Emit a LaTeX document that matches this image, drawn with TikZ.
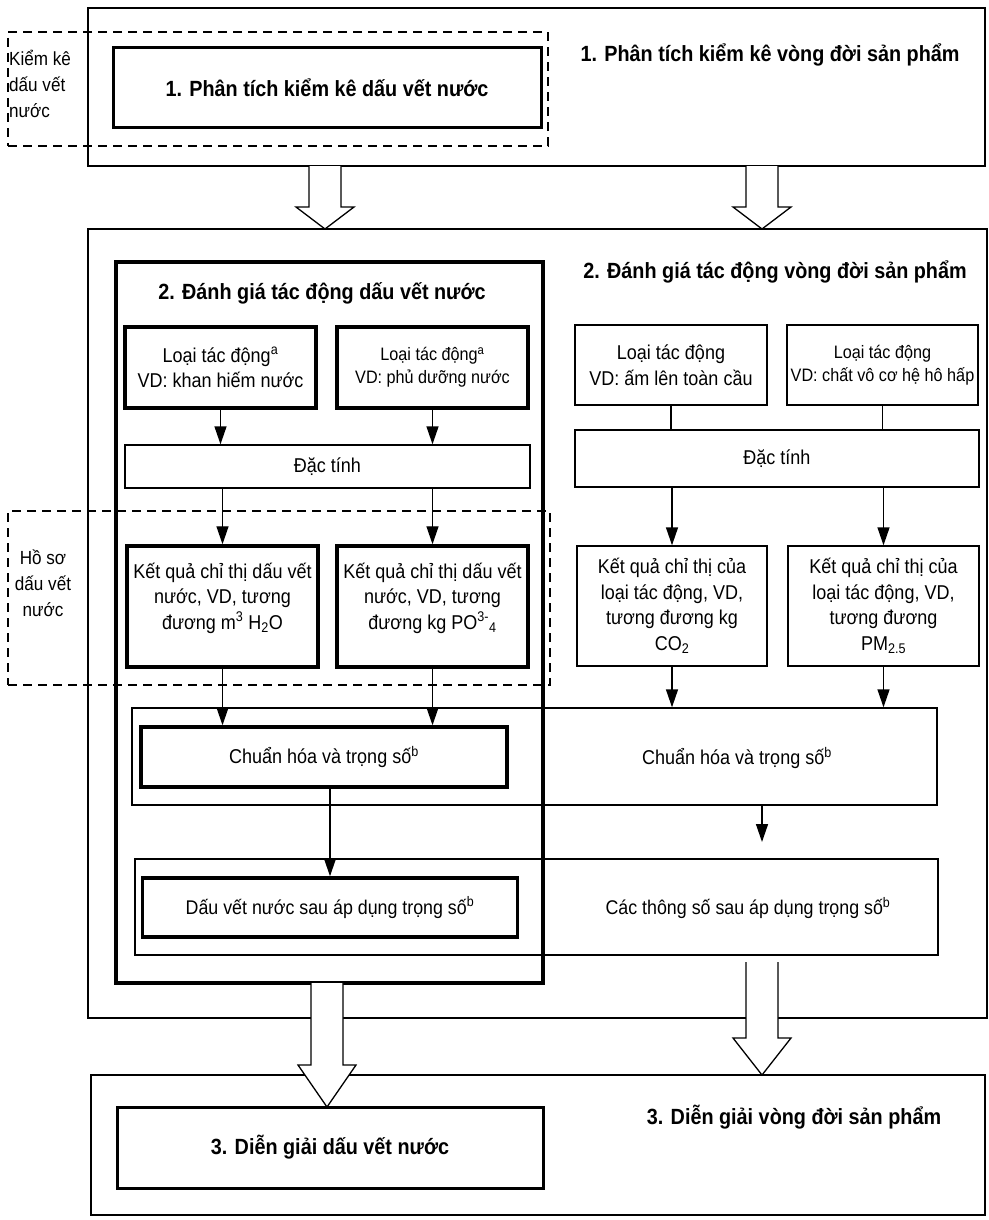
\documentclass[tikz,border=0pt]{standalone}
\usepackage{fontspec}
\setmainfont{Liberation Sans}[FakeStretch=0.9]
\usetikzlibrary{arrows.meta}
\newcommand{\hollowarrow}[4]{%
  \draw[hollow] (#1-16,#2) -- (#1-16,#3-#4) -- (#1-29,#3-#4) -- (#1,#3) -- (#1+29,#3-#4) -- (#1+16,#3-#4) -- (#1+16,#2);}
\begin{document}
\begin{tikzpicture}[x=1pt,y=-1pt,
  every node/.style={font=\fontsize{20}{25.5}\selectfont, align=center, inner sep=0pt},
  outerbox/.style={draw, line width=1.1pt},
  thinbox/.style={draw, line width=1.4pt},
  thickbox/.style={draw, line width=3.5pt},
  midbox/.style={draw, line width=3pt},
  dashbox/.style={draw, line width=1.6pt, dash pattern=on 9pt off 6pt},
  title/.style={font=\fontsize{22}{26}\selectfont\bfseries},
  smalltxt/.style={font=\fontsize{18}{23}\selectfont},
  sidetxt/.style={font=\fontsize{19}{26}\selectfont},
  rowtxt/.style={font=\fontsize{19.8}{24}\selectfont},
  arr/.style={line width=1.4pt, -{Triangle[length=18pt,width=12pt]}},
  plainline/.style={line width=1.4pt},
  hollow/.style={draw, fill=white, line width=1.3pt, line join=miter},
]
\useasboundingbox (0,0) rectangle (988,1220);

% ---------- Section 1 ----------
\node[outerbox, minimum width=897pt, minimum height=158pt] (A) at (536.5,87) {};
\node[dashbox, minimum width=540pt, minimum height=114pt] (K) at (278,89) {};
\node[midbox, minimum width=428pt, minimum height=80pt, title] (A1) at (327,88) {1. Phân tích kiểm kê dấu vết nước};
\node[title] (Alabel) at (770,55) {1. Phân tích kiểm kê vòng đời sản phẩm};
\node[sidetxt, align=left, anchor=west] (Klabel) at (9,84) {Kiểm kê\\dấu vết\\nước};

% ---------- Section 2 ----------
\node[outerbox, minimum width=899pt, minimum height=789pt] (B) at (537.5,623.5) {};
\node[thickbox, minimum width=427pt, minimum height=721pt] (W2) at (329.5,622.5) {};
\node[title] (W2label) at (322,293) {2. Đánh giá tác động dấu vết nước};
\node[title] (Blabel) at (775,272) {2. Đánh giá tác động vòng đời sản phẩm};

\node[thickbox, minimum width=191pt, minimum height=81pt] (L1) at (220.5,367.5) {Loại tác động\textsuperscript{a}\\VD: khan hiếm nước};
\node[thickbox, minimum width=191pt, minimum height=81pt, smalltxt] (L2) at (432.5,367.5) {Loại tác động\textsuperscript{a}\\VD: phủ dưỡng nước};
\node[thinbox, minimum width=405pt, minimum height=43pt] (DW) at (327.5,466.5) {Đặc tính};

\node[thinbox, minimum width=192pt, minimum height=80pt] (R1) at (671,365) {Loại tác động\\VD: ấm lên toàn cầu};
\node[thinbox, minimum width=191pt, minimum height=80pt, smalltxt] (R2) at (882.5,365) {Loại tác động\\VD: chất vô cơ hệ hô hấp};
\node[thinbox, minimum width=404pt, minimum height=57pt] (DR) at (777,458.5) {Đặc tính};

\node[dashbox, minimum width=542pt, minimum height=174pt] (H) at (279,598) {};
\node[sidetxt] (Hlabel) at (43,583) {Hồ sơ\\dấu vết\\nước};

\node[thickbox, minimum width=191pt, minimum height=121pt] (K1) at (222.5,606.5) {Kết quả chỉ thị dấu vết\\nước, VD, tương\\đương m\textsuperscript{3} H\textsubscript{2}O\\[-5pt]\mbox{}};
\node[thickbox, minimum width=191pt, minimum height=121pt] (K2) at (432.5,606.5) {Kết quả chỉ thị dấu vết\\nước, VD, tương\\đương kg PO\textsuperscript{3-}\textsubscript{4}\\[-5pt]\mbox{}};
\node[thinbox, minimum width=190pt, minimum height=120pt] (K3) at (672,606) {Kết quả chỉ thị của\\loại tác động, VD,\\tương đương kg\\CO\textsubscript{2}};
\node[thinbox, minimum width=191pt, minimum height=120pt] (K4) at (883.5,606) {Kết quả chỉ thị của\\loại tác động, VD,\\tương đương\\PM\textsubscript{2.5}};

\node[thinbox, minimum width=805pt, minimum height=97pt] (N) at (534.5,756.5) {};
\node[thickbox, minimum width=366pt, minimum height=60pt] (Ni) at (324,757) {Chuẩn hóa và trọng số\textsuperscript{b}};
\node (Nlabel) at (737,758) {Chuẩn hóa và trọng số\textsuperscript{b}};

\node[thinbox, minimum width=803pt, minimum height=96pt] (P) at (536.5,907) {};
\node[thickbox, minimum width=375pt, minimum height=59pt, rowtxt] (Pi) at (330,907.5) {Dấu vết nước sau áp dụng trọng số\textsuperscript{b}};
\node[rowtxt] (Plabel) at (748,908) {Các thông số sau áp dụng trọng số\textsuperscript{b}};

% arrows in section 2
\draw[arr] (L1.south) -- (L1.south |- DW.north);
\draw[arr] (L2.south) -- (L2.south |- DW.north);
\draw[plainline] (R1.south) -- (R1.south |- DR.north);
\draw[plainline] (R2.south) -- (R2.south |- DR.north);
\draw[arr] (K1.north |- DW.south) -- (K1.north);
\draw[arr] (K2.north |- DW.south) -- (K2.north);
\draw[arr] (K3.north |- DR.south) -- (K3.north);
\draw[arr] (K4.north |- DR.south) -- (K4.north);
\draw[arr] (K1.south) -- (K1.south |- Ni.north);
\draw[arr] (K2.south) -- (K2.south |- Ni.north);
\draw[arr] (K3.south) -- (K3.south |- N.north);
\draw[arr] (K4.south) -- (K4.south |- N.north);
\coordinate (Nend) at (762,842);
\draw[arr] (Nend |- N.south) -- (Nend);
\draw[arr] (Pi.north |- Ni.south) -- (Pi.north);

% ---------- Section 3 ----------
\node[outerbox, minimum width=894pt, minimum height=140pt] (C) at (538,1145) {};
\node[midbox, minimum width=426pt, minimum height=81pt, title] (C1) at (330,1147.5) {3. Diễn giải dấu vết nước};
\node[title] (Clabel) at (794,1117) {3. Diễn giải vòng đời sản phẩm};

% hollow block arrows
\hollowarrow{325}{166}{229}{22}
\hollowarrow{762}{166}{229}{22}
\hollowarrow{327}{983}{1107}{42}
\hollowarrow{762}{962}{1075}{37}
\end{tikzpicture}
\end{document}
